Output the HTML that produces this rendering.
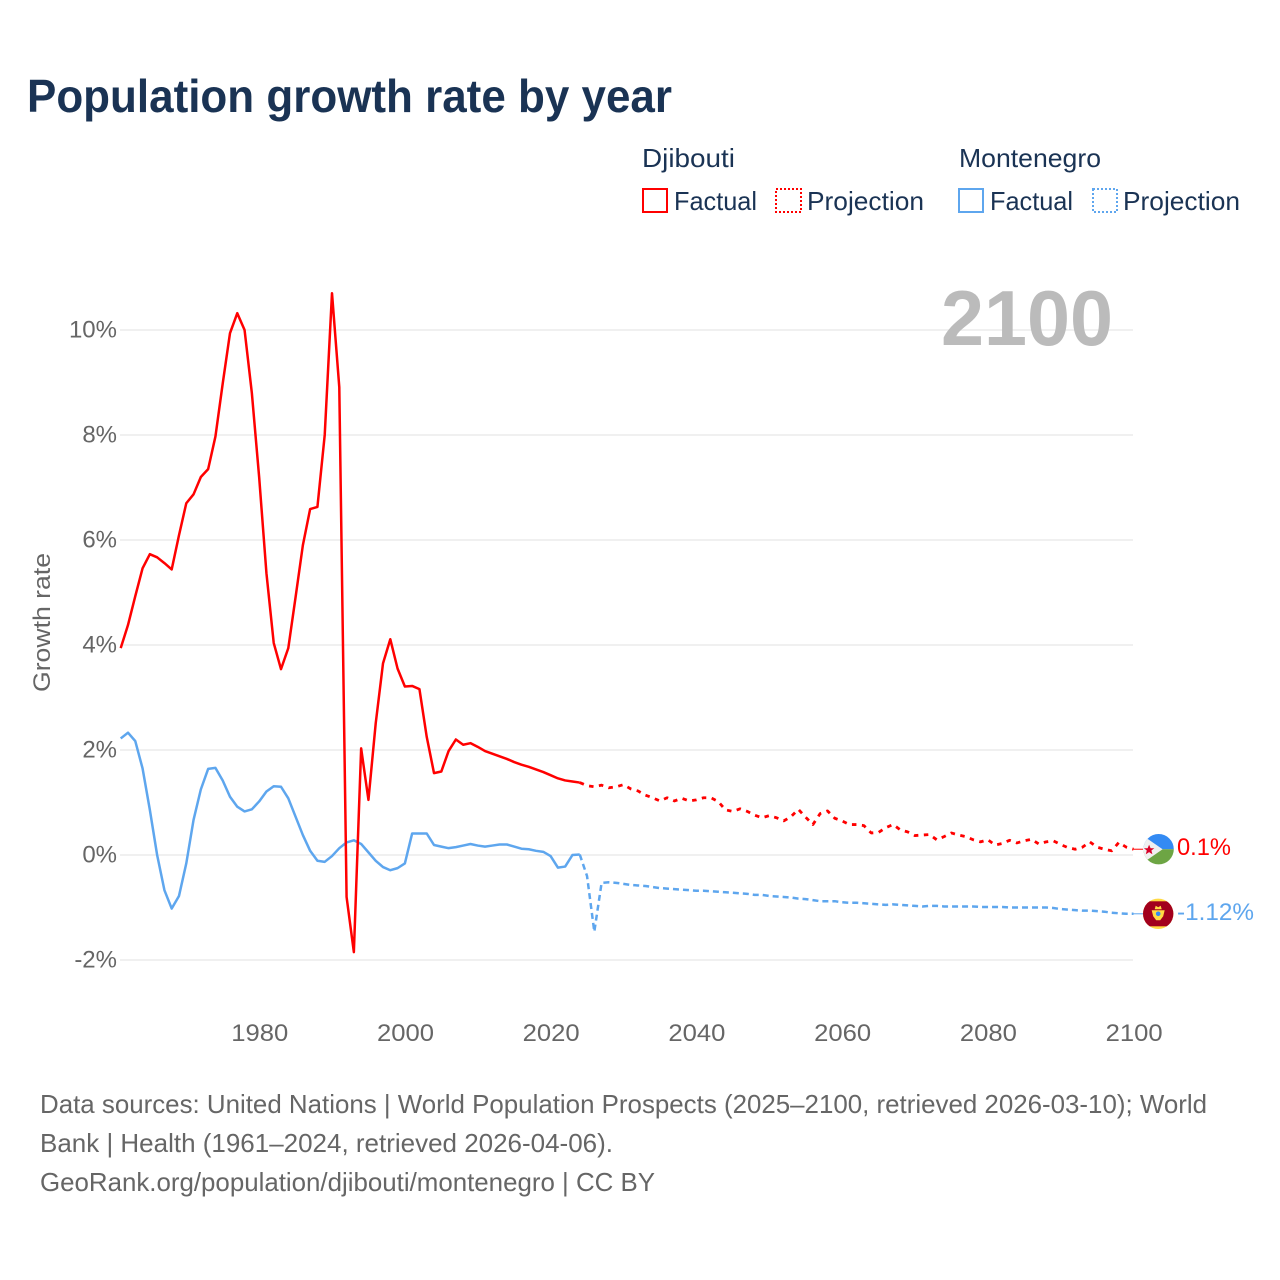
<!DOCTYPE html>
<html lang="en">
<head>
<meta charset="utf-8">
<title>Population growth rate by year</title>
<style>
html,body{margin:0;padding:0;background:#fff;width:1280px;height:1280px;overflow:hidden}
svg{display:block}
text{font-family:"Liberation Sans",Arial,sans-serif}
</style>
</head>
<body>
<svg id="chart" xmlns="http://www.w3.org/2000/svg" width="1280" height="1280" viewBox="0 0 1280 1280">
  <defs>
    <clipPath id="flag-clip-a"><circle cx="0" cy="0" r="15.2"></circle></clipPath>
  </defs>
  <rect x="0" y="0" width="1280" height="1280" fill="#ffffff"></rect>

  <text x="27" y="112" font-size="46" font-weight="700" fill="#1a3354" textLength="645" lengthAdjust="spacingAndGlyphs">Population growth rate by year</text>

  <g>
    <text x="642" y="167" font-size="26" fill="#1a3354" textLength="93" lengthAdjust="spacingAndGlyphs">Djibouti</text>
    <text x="959" y="167" font-size="26" fill="#1a3354" textLength="142" lengthAdjust="spacingAndGlyphs">Montenegro</text>
    <rect x="643" y="189" width="24" height="23" fill="none" stroke="#ff0000" stroke-width="2"></rect>
    <text x="674" y="210" font-size="26" fill="#1a3354" textLength="83" lengthAdjust="spacingAndGlyphs">Factual</text>
    <rect x="776" y="189" width="25" height="23" fill="none" stroke="#ff0000" stroke-width="2" stroke-dasharray="2 2"></rect>
    <text x="807" y="210" font-size="26" fill="#1a3354" textLength="117" lengthAdjust="spacingAndGlyphs">Projection</text>
    <rect x="959" y="189" width="24" height="23" fill="none" stroke="#5ea6ee" stroke-width="2"></rect>
    <text x="990" y="210" font-size="26" fill="#1a3354" textLength="83" lengthAdjust="spacingAndGlyphs">Factual</text>
    <rect x="1093" y="189" width="24" height="23" fill="none" stroke="#5ea6ee" stroke-width="2" stroke-dasharray="2 2"></rect>
    <text x="1123" y="210" font-size="26" fill="#1a3354" textLength="117" lengthAdjust="spacingAndGlyphs">Projection</text>
  </g>

  <g id="grid"></g>

  <text x="941" y="345" font-size="78" font-weight="700" fill="#bbbbbb" textLength="172" lengthAdjust="spacingAndGlyphs">2100</text>

  <text transform="translate(50,692) rotate(-90)" x="0" y="0" font-size="24" fill="#666666" textLength="139" lengthAdjust="spacingAndGlyphs">Growth rate</text>

  <g id="y-ticks"></g>
  <g id="x-ticks"></g>
  <g id="series"></g>
  <g id="end-markers"></g>

  <g>
    <text x="40" y="1113" font-size="26" fill="#666666" textLength="1167" lengthAdjust="spacingAndGlyphs">Data sources: United Nations | World Population Prospects (2025–2100, retrieved 2026-03-10); World</text>
    <text x="40" y="1152" font-size="26" fill="#666666" textLength="573" lengthAdjust="spacingAndGlyphs">Bank | Health (1961–2024, retrieved 2026-04-06).</text>
    <text x="40" y="1191" font-size="26" fill="#666666" textLength="615" lengthAdjust="spacingAndGlyphs">GeoRank.org/population/djibouti/montenegro | CC BY</text>
  </g>
</svg>

<script>
const factualStartYear = 1961;
const projectionStartYear = 2024;
const xTickLabels = [1980, 2000, 2020, 2040, 2060, 2080, 2100];
const yTickLabels = [-2, 0, 2, 4, 6, 8, 10];

const djiboutiFactual = [
  3.94, 4.38, 4.93, 5.46, 5.73, 5.67, 5.56, 5.44, 6.09, 6.70,
  6.87, 7.20, 7.35, 7.97, 8.98, 9.94, 10.32, 10.00, 8.80, 7.20,
  5.37, 4.04, 3.54, 3.94, 4.91, 5.90, 6.59, 6.63, 8.00, 10.70,
  8.91, -0.80, -1.85, 2.03, 1.05, 2.51, 3.65, 4.11, 3.55, 3.21,
  3.22, 3.16, 2.25, 1.56, 1.59, 1.98, 2.20, 2.10, 2.13, 2.06,
  1.98, 1.93, 1.88, 1.83, 1.77, 1.72, 1.68, 1.63, 1.58, 1.52,
  1.46, 1.42, 1.40, 1.38
];
const djiboutiProjection = [
  1.38, 1.32, 1.30, 1.33, 1.28, 1.30, 1.34, 1.26, 1.22, 1.14,
  1.09, 1.03, 1.09, 1.03, 1.08, 1.03, 1.05, 1.09, 1.09, 1.02,
  0.86, 0.83, 0.88, 0.83, 0.76, 0.71, 0.75, 0.71, 0.65, 0.73,
  0.87, 0.72, 0.58, 0.79, 0.84, 0.70, 0.65, 0.58, 0.58, 0.56,
  0.42, 0.43, 0.52, 0.58, 0.48, 0.44, 0.37, 0.38, 0.39, 0.29,
  0.35, 0.42, 0.38, 0.35, 0.29, 0.25, 0.29, 0.19, 0.22, 0.28,
  0.23, 0.27, 0.30, 0.21, 0.25, 0.27, 0.20, 0.14, 0.11, 0.15,
  0.25, 0.15, 0.11, 0.08, 0.24, 0.15, 0.11
];
const montenegroFactual = [
  2.22, 2.33, 2.17, 1.65, 0.86, 0.00, -0.67, -1.02, -0.78, -0.16,
  0.67, 1.25, 1.64, 1.66, 1.42, 1.11, 0.92, 0.83, 0.87, 1.02,
  1.21, 1.31, 1.30, 1.08, 0.73, 0.38, 0.08, -0.11, -0.13, -0.02,
  0.13, 0.24, 0.28, 0.21, 0.05, -0.11, -0.23, -0.29, -0.25, -0.16,
  0.41, 0.41, 0.41, 0.19, 0.16, 0.13, 0.15, 0.18, 0.21, 0.18,
  0.16, 0.18, 0.20, 0.20, 0.16, 0.12, 0.11, 0.08, 0.06, -0.02,
  -0.24, -0.22, 0.00, 0.01
];
const montenegroProjection = [
  0.01, -0.40, -1.46, -0.53, -0.52, -0.53, -0.55, -0.57, -0.58, -0.59,
  -0.61, -0.63, -0.64, -0.65, -0.66, -0.67, -0.68, -0.68, -0.69, -0.70,
  -0.71, -0.72, -0.73, -0.74, -0.76, -0.76, -0.78, -0.79, -0.80, -0.81,
  -0.83, -0.84, -0.86, -0.88, -0.88, -0.88, -0.90, -0.91, -0.91, -0.92,
  -0.93, -0.94, -0.95, -0.94, -0.95, -0.96, -0.97, -0.98, -0.97, -0.97,
  -0.98, -0.98, -0.98, -0.98, -0.98, -0.99, -0.99, -0.99, -0.99, -1.00,
  -1.00, -1.00, -1.00, -1.00, -1.00, -1.01, -1.03, -1.04, -1.05, -1.06,
  -1.06, -1.07, -1.08, -1.10, -1.11, -1.12, -1.12
];

const NS = 'http://www.w3.org/2000/svg';
const redColor = '#ff0000';
const blueColor = '#5ea6ee';

function xScale(year) { return 120.7 + (year - 1961) * (1133.5 - 120.7) / 139; }
function yScale(value) { return 855 - value * 52.5; }

function make(tag, attrs, parent) {
  const el = document.createElementNS(NS, tag);
  for (const k in attrs) el.setAttribute(k, attrs[k]);
  parent.appendChild(el);
  return el;
}

const gridGroup = document.getElementById('grid');
const yTickGroup = document.getElementById('y-ticks');
yTickLabels.forEach(function (v) {
  const line = make('line', { x1: 120, x2: 1133, y1: yScale(v), y2: yScale(v), stroke: '#ececec', 'stroke-width': 1.6 }, gridGroup);
  
  
  const t = make('text', { x: 117, y: yScale(v) + 7.5, 'text-anchor': 'end', 'font-size': 24, fill: '#666666' }, yTickGroup);
  
  
  t.textContent = v + '%';
});

const xTickGroup = document.getElementById('x-ticks');
xTickLabels.forEach(function (y) {
  const t = make('text', { x: xScale(y) + 0.6, y: 1041, 'text-anchor': 'middle', 'font-size': 24, fill: '#666666', textLength: 57, lengthAdjust: 'spacingAndGlyphs' }, xTickGroup);
  
  
  t.textContent = String(y);
});

function pathFrom(values, startYear) {
  return values.map(function (v, i) {
    return (i ? 'L' : 'M') + xScale(startYear + i).toFixed(2) + ' ' + yScale(v).toFixed(2);
  }).join(' ');
}

const seriesGroup = document.getElementById('series');

const lineMontenegroFactual = make('path', { d: pathFrom(montenegroFactual, factualStartYear), fill: 'none', stroke: blueColor, 'stroke-width': 2.5, 'stroke-linejoin': 'round' }, seriesGroup);



const lineMontenegroProjection = make('path', { d: pathFrom(montenegroProjection, projectionStartYear), fill: 'none', stroke: blueColor, 'stroke-width': 2.5, 'stroke-dasharray': '6 4', 'stroke-linejoin': 'round' }, seriesGroup);



const lineDjiboutiFactual = make('path', { d: pathFrom(djiboutiFactual, factualStartYear), fill: 'none', stroke: redColor, 'stroke-width': 2.5, 'stroke-linejoin': 'round' }, seriesGroup);



const lineDjiboutiProjection = make('path', { d: pathFrom(djiboutiProjection, projectionStartYear), fill: 'none', stroke: redColor, 'stroke-width': 2.8, 'stroke-dasharray': '4.5 5.5', 'stroke-linejoin': 'round' }, seriesGroup);



const markerGroup = document.getElementById('end-markers');
const djiboutiEnd = djiboutiProjection[djiboutiProjection.length - 1];
const montenegroEnd = montenegroProjection[montenegroProjection.length - 1];
const djiboutiEndY = yScale(djiboutiEnd);
const montenegroEndY = yScale(montenegroEnd);

const connectorDjibouti = make('line', { x1: 1133.5, x2: 1143, y1: djiboutiEndY, y2: djiboutiEndY, stroke: redColor, 'stroke-width': 1 }, markerGroup);



const connectorMontenegro = make('line', { x1: 1133.5, x2: 1143, y1: montenegroEndY, y2: montenegroEndY, stroke: blueColor, 'stroke-width': 1 }, markerGroup);



const flagDjibouti = make('g', { transform: 'translate(1158.6 ' + djiboutiEndY + ')', 'clip-path': 'url(#flag-clip-a)' }, markerGroup);


make('rect', { x: -16, y: -16, width: 32, height: 16, fill: '#338af3' }, flagDjibouti);
make('rect', { x: -16, y: 0, width: 32, height: 16, fill: '#6da544' }, flagDjibouti);
make('polygon', { points: '-15.5,-13.5 4,0 -15.5,13.5', fill: '#f0f0f0' }, flagDjibouti);
make('polygon', { points: '-9.5,-4.5 -8,-1 -4.3,-1 -7.2,1.3 -6.2,5 -9.5,2.9 -12.8,5 -11.8,1.3 -14.7,-1 -11,-1', fill: '#d80027' }, flagDjibouti);

const flagMontenegro = make('g', { transform: 'translate(1158.2 ' + montenegroEndY + ')', 'clip-path': 'url(#flag-clip-a)' }, markerGroup);


make('rect', { x: -16, y: -16, width: 32, height: 32, fill: '#ffda44' }, flagMontenegro);
make('rect', { x: -16, y: -12.5, width: 32, height: 25, fill: '#a2001d' }, flagMontenegro);
make('polygon', { points: '-3.5,-4.5 -2.5,-8 0,-6.5 2.5,-8 3.5,-4.5', fill: '#ffda44' }, flagMontenegro);
make('polygon', { points: '-6.5,-3.5 6.5,-3.5 5,2.5 2,6.5 -2,6.5 -5,2.5', fill: '#ffda44' }, flagMontenegro);
make('circle', { cx: 0, cy: 0, r: 2.3, fill: '#338af3' }, flagMontenegro);

const labelDjibouti = make('text', { x: 1177, y: djiboutiEndY + 6, 'font-size': 24, fill: redColor, textLength: 54, lengthAdjust: 'spacingAndGlyphs' }, markerGroup);


labelDjibouti.textContent = djiboutiEnd.toFixed(1) + '%';

const labelMontenegro = make('text', { x: 1177, y: montenegroEndY + 6, 'font-size': 24, fill: blueColor, textLength: 77, lengthAdjust: 'spacingAndGlyphs' }, markerGroup);


labelMontenegro.textContent = montenegroEnd.toFixed(2) + '%';
</script>
</body>
</html>
